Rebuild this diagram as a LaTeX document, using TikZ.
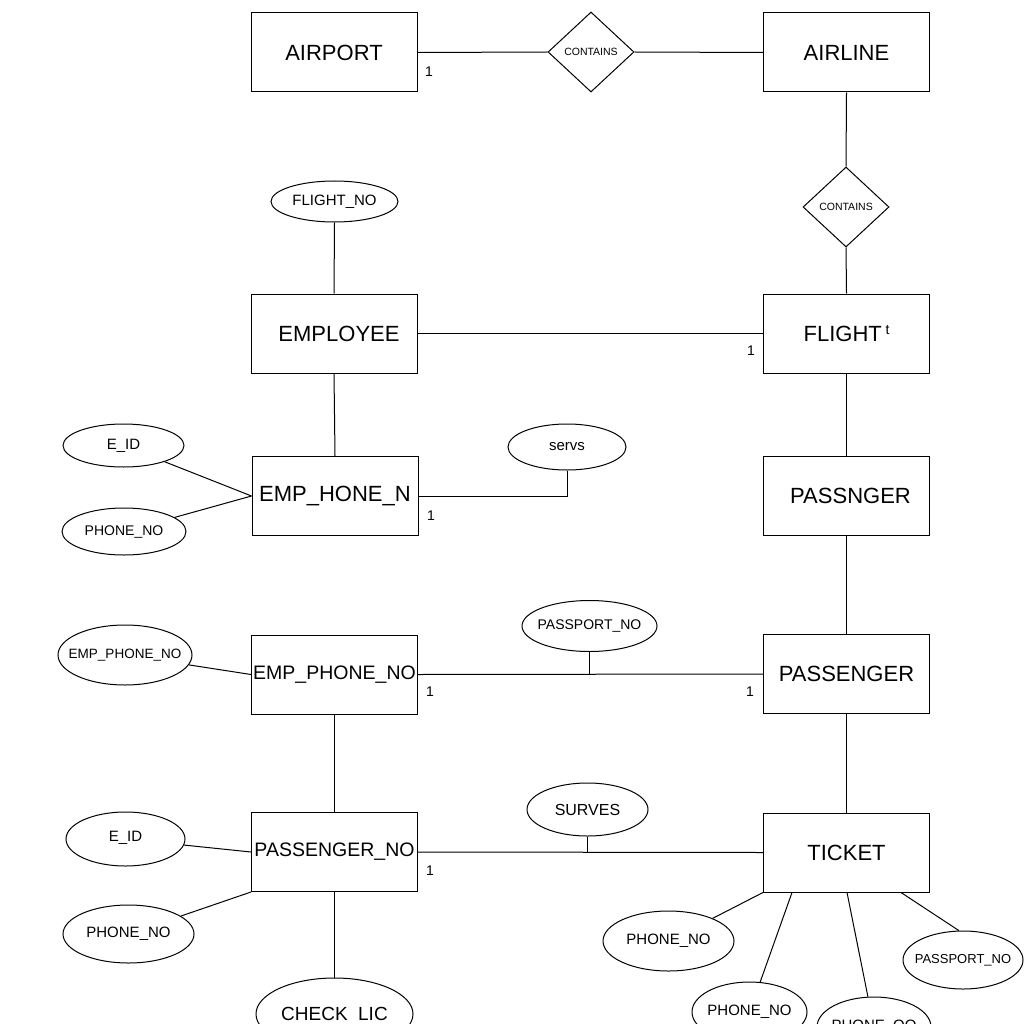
\documentclass[tikz,border=0pt]{standalone}
\usepackage{fontspec}
\setmainfont{Liberation Sans}
\usetikzlibrary{shapes.geometric}
\newcommand{\fs}[1]{\fontsize{#1}{#1}\selectfont}
% attribute labels take no width, so the ellipse keeps its given size
\newcommand{\lbl}[1]{\makebox[0pt][c]{#1}}
\begin{document}
\begin{tikzpicture}[x=1pt,y=-1pt,line width=1pt,
  entity/.style={draw,rectangle,minimum width=166pt,minimum height=79pt,inner sep=0pt,font=\fs{22}},
  attr/.style={draw,ellipse,inner sep=0pt,font=\fs{15}},
  rel/.style={draw,diamond,inner sep=0pt,minimum width=86pt,minimum height=80pt,font=\fs{10.5}},
  card/.style={inner sep=0pt,font=\fs{14}},
  link/.style={line width=1pt}]
\fill[white] (0,0) rectangle (1024,1024);
\clip (0,0) rectangle (1024,1024);
\useasboundingbox (0,0) rectangle (1024,1024);

% entities
\node[entity] (airport)   at (334,52.5)  {AIRPORT};
\node[entity] (airline)   at (846.5,52.5) {AIRLINE};
\node[entity] (employee)  at (334,333.5) {\hspace{10pt}EMPLOYEE};
\node[entity] (flight)    at (846.5,333.5) {FLIGHT\,\raisebox{7pt}{\fs{14}t}};
\node[entity] (emphone)   at (335,496)   {EMP\_HONE\_N};
\node[entity] (passnger)  at (846.5,496) {\hspace{8pt}PASSNGER};
\node[entity,font=\fs{19.5}] (empno) at (334.5,674.5) {EMP\_PHONE\_NO};
\node[entity] (passenger) at (846.5,674) {PASSENGER};
\node[entity,font=\fs{19.5}] (passno) at (334.5,852) {PASSENGER\_NO};
\node[entity] (ticket)    at (846.5,852.5) {TICKET};

% relationships
\node[rel] (contains1) at (591,52)  {\raisebox{-2pt}{CONTAINS}};
\node[rel] (contains2) at (846,207) {\raisebox{-1pt}{CONTAINS}};

% attributes
\node[attr,minimum width=127pt,minimum height=41pt] (flightno) at (334.5,201.5) {\lbl{FLIGHT\_NO}};
\node[attr,minimum width=121pt,minimum height=43pt] (eid1)     at (123.5,445.5) {\lbl{E\_ID}};
\node[attr,minimum width=124pt,minimum height=47pt,font=\fs{14}] (phone1) at (124,531.5) {\lbl{PHONE\_NO}};
\node[attr,minimum width=118pt,minimum height=46pt,font=\fs{15}] (servs)  at (567,447) {\lbl{servs}};
\node[attr,minimum width=134pt,minimum height=60pt,font=\fs{13.5}] (empattr) at (125,655) {\lbl{EMP\_PHONE\_NO}};
\node[attr,minimum width=135pt,minimum height=51pt,font=\fs{14}] (passport1) at (589.5,626) {\lbl{PASSPORT\_NO}};
\node[attr,minimum width=119pt,minimum height=54pt] (eid2)     at (125.5,839) {\lbl{\raisebox{5pt}{E\_ID}}};
\node[attr,minimum width=131pt,minimum height=58pt] (phone2)   at (128.5,934) {\lbl{PHONE\_NO}};
\node[attr,minimum width=157pt,minimum height=72pt,font=\fs{19}] (checklic) at (334.5,1014) {\lbl{CHECK\hspace{0.55em}LIC}};
\node[attr,minimum width=121pt,minimum height=53pt,font=\fs{16}] (surves)   at (587.5,809.5) {\lbl{SURVES}};
\node[attr,minimum width=131pt,minimum height=60pt] (phone3)   at (668.5,941) {\lbl{PHONE\_NO}};
\node[attr,minimum width=115pt,minimum height=60pt] (phone4)   at (749.5,1012) {\lbl{PHONE\_NO}};
\node[attr,minimum width=114pt,minimum height=60pt] (phone5)   at (874,1027) {\lbl{PHONE\_OO}};
\node[attr,minimum width=120pt,minimum height=58pt,font=\fs{13}] (passport2) at (963,960) {\lbl{PASSPORT\_NO}};

% cardinalities
\node[card] (k1) at (429,72)  {1};
\node[card] (k2) at (751,351) {1};
\node[card] (k3) at (431,516) {1};
\node[card] (k4) at (430,692) {1};
\node[card] (k5) at (750,692) {1};
\node[card] (k6) at (430,871) {1};

% attachment points along the ticket's lower edge
\coordinate (t1) at (792,892.5);
\coordinate (t2) at (847,892.5);
\coordinate (t3) at (901,892.5);

% connectors
\draw[link] (airport.east) -- (contains1.west);
\draw[link] (contains1.east) -- (airline.west);
\draw[link] (airline.south) -- (contains2.north);
\draw[link] (contains2.south) -- (flight.north);
\draw[link] (flightno.south) -- (employee.north);
\draw[link] (employee.east) -- (flight.west);
\draw[link] (employee.south) -- (emphone.north);
\draw[link] (eid1) -- (emphone.west);
\draw[link] (phone1) -- (emphone.west);
\draw[link] (emphone.east) -| (servs.south);
\draw[link] (flight.south) -- (passnger.north);
\draw[link] (passnger.south) -- (passenger.north);
\draw[link] (empattr) -- (empno.west);
\draw[link] (empno.east) -- (passenger.west);
\draw[link] (passport1.south) -- (passport1.south |- empno.east);
\draw[line width=1.4pt] (empno.south) -- (passno.north);
\draw[link] (eid2) -- (passno.west);
\draw[link] (phone2) -- (passno.south west);
\draw[link] (passno.south) -- (checklic.north);
\draw[link] (passno.east) -- (ticket.west);
\draw[link] (surves.south) -- (surves.south |- passno.east);
\draw[link] (passenger.south) -- (ticket.north);
\draw[link] (ticket.south west) -- (phone3);
\draw[link] (t1) -- (phone4);
\draw[link] (t2) -- (phone5);
\draw[link] (t3) -- (passport2.98);
\end{tikzpicture}
\end{document}
